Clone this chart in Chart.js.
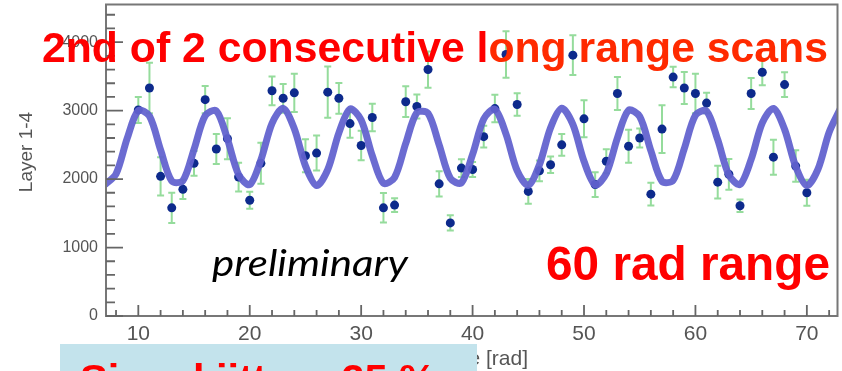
<!DOCTYPE html>
<html>
<head>
<meta charset="utf-8">
<script src="https://cdn.jsdelivr.net/npm/chart.js@4.4.1/dist/chart.umd.min.js"></script>
<style>
  html, body { margin: 0; padding: 0; background: #fff; overflow: hidden; }
  .wrap { position: relative; width: 842px; height: 371px; overflow: hidden; }
  canvas, svg { position: absolute; left: 0; top: 0; }
</style>
</head>
<body>
<div class="wrap">
  <canvas id="scan" width="842" height="371"></canvas>
  <svg width="842" height="371" font-family="'Liberation Sans', Arial, sans-serif">
    <text transform="translate(32,152) rotate(-90)" text-anchor="middle" font-size="19" fill="#555">Layer 1-4</text>
    <text x="528" y="365" text-anchor="end" font-size="21" fill="#555">Angle [rad]</text>
    <rect x="60" y="344" width="417" height="30" fill="#c3e3ec"></rect>
    <text x="80" y="393" font-size="41.5" font-weight="bold" fill="#ff0000" textLength="356" lengthAdjust="spacingAndGlyphs">Signal jitter ~25 %</text>
    <text x="42" y="62" font-size="42.7" font-weight="bold" textLength="786" lengthAdjust="spacingAndGlyphs"><tspan fill="#ff0000">2nd of 2 consecutive l</tspan><tspan fill="#ff2a00">ong range scans</tspan></text>
    <text x="546" y="280" font-size="47.4" font-weight="bold" fill="#ff0000" textLength="284" lengthAdjust="spacingAndGlyphs">60 rad range</text>
    <text x="212" y="276" font-family="Lato, 'Open Sans', sans-serif" font-style="italic" font-size="36" fill="#000" textLength="196" lengthAdjust="spacingAndGlyphs">preliminary</text>
  </svg>
</div>
<script>
// measured points, one per rad
const angle = [10, 11, 12, 13, 14, 15, 16, 17, 18, 19, 20, 21, 22, 23, 24, 25, 26, 27, 28, 29, 30,
  31, 32, 33, 34, 35, 36, 37, 38, 39, 40, 41, 42, 43, 44, 45, 46, 47, 48, 49, 50,
  51, 52, 53, 54, 55, 56, 57, 58, 59, 60, 61, 62, 63, 64, 65, 66, 67, 68, 69, 70];
const counts = [3010, 3330, 2040, 1580, 1850, 2230, 3160, 2440, 2590, 2030, 1690, 2230, 3290, 3180, 3260, 2340, 2380, 3270, 3180, 2810, 2490,
  2900, 1580, 1620, 3130, 3060, 3600, 1930, 1360, 2160, 2140, 2620, 3030, 3820, 3090, 1820, 2120, 2210, 2500, 3810, 2880,
  1920, 2260, 3250, 2480, 2600, 1780, 2730, 3490, 3330, 3250, 3110, 1955, 2070, 1610, 3250, 3560, 2320, 3380, 2190, 1800];
const countErr = [190, 370, 280, 220, 140, 180, 200, 220, 300, 210, 125, 300, 210, 210, 280, 240, 255, 375, 225, 205, 215,
  200, 215, 100, 225, 175, 265, 185, 110, 130, 110, 160, 200, 340, 165, 180, 150, 120, 160, 290, 270,
  180, 175, 240, 240, 140, 165, 350, 150, 235, 290, 150, 240, 225, 90, 225, 190, 255, 180, 230, 190];

// fit curve
const fitAngle = [7, 8, 9, 10, 11, 12, 13, 14, 15, 16, 17, 18, 19, 20, 21, 22, 23, 24, 25, 26, 27, 28, 29, 30,
  31, 32, 33, 34, 35, 36, 37, 38, 39, 40, 41, 42, 43, 44, 45, 46, 47, 48, 49, 50,
  51, 52, 53, 54, 55, 56, 57, 58, 59, 60, 61, 62, 63, 64, 65, 66, 67, 68, 69, 70, 71, 72, 73];
const fitCounts = [1917, 2073, 2594, 3001, 2920, 2425, 1972, 1976, 2435, 2925, 2997, 2584, 2066, 1919, 2279, 2814, 3033, 2735, 2193, 1906, 2138, 2675, 3024, 2863,
  2341, 1938, 2023, 2520, 2970, 2961, 2500, 2012, 1944, 2360, 2877, 3020, 2657, 2122, 1907, 2210, 2751, 3034, 2798, 2260,
  1915, 2080, 2603, 3004, 2914, 2415, 1967, 1981, 2445, 2931, 2994, 2575, 2059, 1922, 2288, 2822, 3032, 2726, 2184, 1905, 2146, 2684, 3026];

const xTicks = [10, 20, 30, 40, 50, 60, 70];
const yTicks = [0, 1000, 2000, 3000, 4000];
const xRange = [7.1, 72.75];
const yRange = [0, 4550];

const rootAxes = {
  id: 'rootAxes',
  beforeDatasetsDraw(chart) {
    const { ctx, chartArea: a, scales: { x, y } } = chart;
    ctx.save();
    ctx.beginPath();
    ctx.rect(a.left, a.top, a.right - a.left, a.bottom - a.top);
    ctx.clip();
    ctx.strokeStyle = '#95dc9c';
    ctx.lineWidth = 2;
    angle.forEach((v, i) => {
      const px = x.getPixelForValue(v);
      const top = y.getPixelForValue(counts[i] + countErr[i]);
      const bot = y.getPixelForValue(counts[i] - countErr[i]);
      ctx.beginPath();
      ctx.moveTo(px, top); ctx.lineTo(px, bot);
      ctx.moveTo(px - 3.5, top); ctx.lineTo(px + 3.5, top);
      ctx.moveTo(px - 3.5, bot); ctx.lineTo(px + 3.5, bot);
      ctx.stroke();
    });
    ctx.restore();
  },
  afterDraw(chart) {
    const { ctx, chartArea: a, scales: { x, y } } = chart;
    ctx.save();
    ctx.strokeStyle = '#777';
    ctx.lineWidth = 2;
    ctx.strokeRect(a.left, a.top, a.right - a.left, a.bottom - a.top);
    ctx.strokeStyle = '#666';
    ctx.lineWidth = 1.8;
    ctx.beginPath();
    for (let v = 0; v <= y.max; v += 200) {
      const py = y.getPixelForValue(v);
      ctx.moveTo(a.left, py);
      ctx.lineTo(a.left + (v % 1000 === 0 ? 17 : 9), py);
    }
    for (let v = 8; v <= x.max; v += 2) {
      const px = x.getPixelForValue(v);
      ctx.moveTo(px, a.bottom);
      ctx.lineTo(px, a.bottom - (v % 10 === 0 ? 11 : 6));
    }
    ctx.stroke();
    ctx.restore();
  }
};

const noPad = s => { s.paddingTop = 0; s.paddingBottom = 0; s.paddingLeft = 0; s.paddingRight = 0; };

new Chart(document.getElementById('scan'), {
  type: 'scatter',
  data: {
    datasets: [
      {
        type: 'line',
        data: fitAngle.map((v, i) => ({ x: v, y: fitCounts[i] })),
        borderColor: 'rgba(98, 98, 206, 0.94)',
        borderWidth: 7,
        pointRadius: 0,
        tension: 0.3,
        order: 0
      },
      {
        data: angle.map((v, i) => ({ x: v, y: counts[i] })),
        backgroundColor: '#0d2a8c',
        borderWidth: 0,
        pointRadius: 4.5,
        order: 1
      }
    ]
  },
  options: {
    responsive: false,
    animation: false,
    layout: { padding: { top: 3, right: 3, left: 0, bottom: 0 } },
    plugins: { legend: { display: false }, tooltip: { enabled: false } },
    scales: {
      x: {
        type: 'linear',
        min: xRange[0],
        max: xRange[1],
        grid: { display: false, drawTicks: false },
        border: { display: false },
        afterBuildTicks: s => { s.ticks = xTicks.map(v => ({ value: v })); },
        afterFit: s => { s.height = 55; noPad(s); },
        ticks: {
          padding: 6,
          color: '#555',
          font: { family: 'Liberation Sans', size: 21 },
          callback: v => String(v)
        }
      },
      y: {
        min: yRange[0],
        max: yRange[1],
        grid: { display: false, drawTicks: false },
        border: { display: false },
        afterBuildTicks: s => { s.ticks = yTicks.map(v => ({ value: v })); },
        afterFit: s => { s.width = 106; noPad(s); },
        ticks: {
          padding: 8,
          color: '#555',
          font: { family: 'Liberation Sans', size: 16 },
          callback: v => String(v)
        }
      }
    }
  },
  plugins: [rootAxes]
});
</script>
</body>
</html>
